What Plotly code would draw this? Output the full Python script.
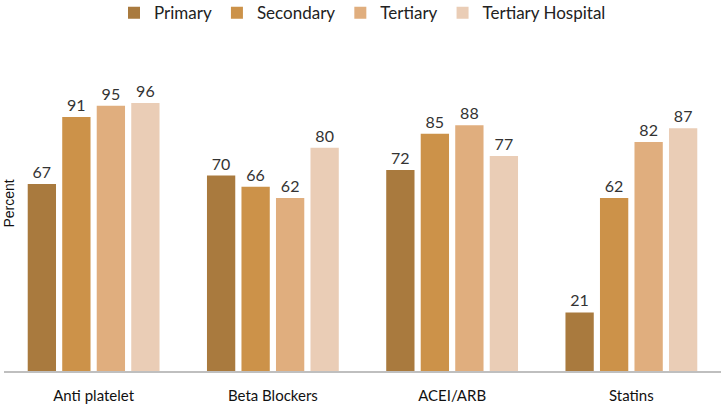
import plotly.graph_objects as go

categories = ["Anti platelet", "Beta Blockers", "ACEI/ARB", "Statins"]
series_names = ["Primary", "Secondary", "Tertiary", "Tertiary Hospital"]
primary = [67, 70, 72, 21]
secondary = [91, 66, 85, 62]
tertiary = [95, 62, 88, 82]
tertiary_hospital = [96, 80, 77, 87]
colors = ["#A97A3E", "#CC9249", "#E0AE7E", "#EACDB6"]

values = [primary, secondary, tertiary, tertiary_hospital]

fig = go.Figure()
for name, vals, col in zip(series_names, values, colors):
    fig.add_trace(go.Bar(
        name=name, x=categories, y=vals, marker_color=col,
        marker_line_width=0,
        text=[str(v) for v in vals], textposition="outside",
        textfont=dict(family="Lato", size=16, color="#333333"),
        cliponaxis=False,
    ))

fig.update_layout(
    width=722, height=406,
    margin=dict(l=4, r=1, t=36, b=35, autoexpand=False),
    paper_bgcolor="white", plot_bgcolor="white",
    barmode="group", bargap=0.23, bargroupgap=0.18,
    showlegend=True,
    legend=dict(orientation="h", x=0.50, xanchor="center", y=1.122, yref="paper",
                yanchor="top", font=dict(family="Lato", size=17, color="#222222"),
                itemwidth=30, traceorder="normal"),
    font=dict(family="Lato"),
)
fig.update_xaxes(showline=True, linecolor="#BFBFBF", linewidth=1.5, showgrid=False,
                 ticks="", ticklabelstandoff=10, automargin=False,
                 tickfont=dict(family="Lato", size=15, color="#111111"))
fig.update_yaxes(range=[0, 120], showgrid=False, showticklabels=False, zeroline=False,
                 showline=False, automargin=False)
fig.add_annotation(text="Percent", textangle=-90, xref="paper", yref="paper",
                   x=0, y=0.5, xanchor="center", yanchor="middle", xshift=4,
                   showarrow=False, font=dict(family="Liberation Sans", size=14, color="#111111"))

fig.write_html("out.html", config={"displayModeBar": False},
               post_script="document.body.style.margin='0';document.body.style.overflow='hidden';")
